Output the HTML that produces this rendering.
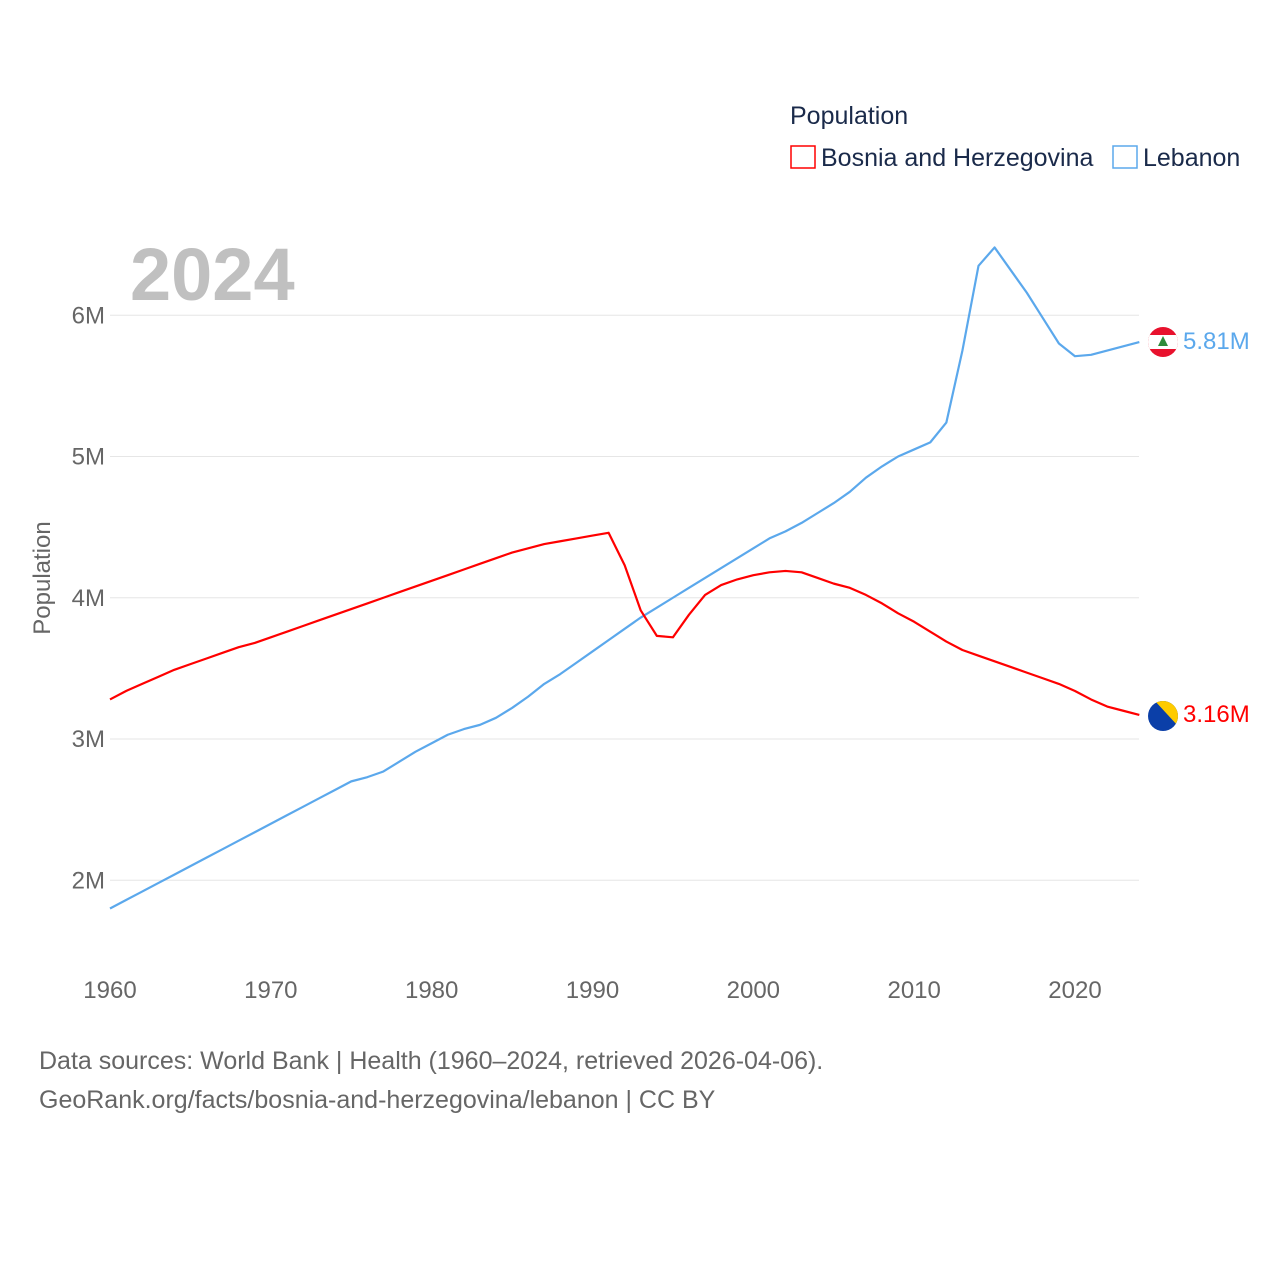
<!DOCTYPE html>
<html><head><meta charset="utf-8"><style>
body{margin:0;background:#fff;}
svg text{font-family:"Liberation Sans",sans-serif;}
</style></head><body>
<svg id="chart" width="1280" height="1280" viewBox="0 0 1280 1280" xmlns="http://www.w3.org/2000/svg">
<text x="790" y="124" font-size="25" fill="#1a2a4a">Population</text>
<rect x="791" y="146" width="24" height="22" fill="none" stroke="#ff0000" stroke-width="1.5"/>
<text x="821" y="166" font-size="25" fill="#1a2a4a">Bosnia and Herzegovina</text>
<rect x="1113" y="146" width="24" height="22" fill="none" stroke="#5ba8ec" stroke-width="1.5"/>
<text x="1143" y="166" font-size="25" fill="#1a2a4a">Lebanon</text>
<text x="130" y="300" font-size="74" font-weight="bold" fill="#c0c0c0">2024</text>
<text transform="translate(50,578) rotate(-90)" text-anchor="middle" font-size="24" fill="#666">Population</text>
<g id="grid"></g><g id="series"></g>
<text x="39" y="1069" font-size="25" fill="#666">Data sources: World Bank | Health (1960–2024, retrieved 2026-04-06).</text>
<text x="39" y="1108" font-size="25" fill="#666">GeoRank.org/facts/bosnia-and-herzegovina/lebanon | CC BY</text>
<g transform="translate(1163,342)">
<clipPath id="cl"><circle r="15"/></clipPath>
<g clip-path="url(#cl)"><rect x="-15" y="-15" width="30" height="30" fill="#e8112d"/><rect x="-15" y="-7" width="30" height="14" fill="#fff"/><polygon points="0,-6 5,4 -5,4" fill="#2e8b3a"/></g></g>
<g transform="translate(1163,716)">
<clipPath id="cb"><circle r="15"/></clipPath>
<g clip-path="url(#cb)"><rect x="-15" y="-15" width="30" height="30" fill="#0b3fa8"/><polygon points="-8,-15 15,-15 15,10" fill="#fecb00"/></g></g>
<text x="1183" y="349" font-size="24" fill="#5ba8ec">5.81M</text>
<text x="1183" y="722" font-size="24" fill="#ff0000">3.16M</text>
</svg>
<script>
const years=[];for(let y=1960;y<=2024;y++)years.push(y);
const yTicks=[2,3,4,5,6];
const xTicks=[1960,1970,1980,1990,2000,2010,2020];
const bosnia=[3.28,3.34,3.39,3.44,3.49,3.53,3.57,3.61,3.65,3.68,3.72,3.76,3.80,3.84,3.88,3.92,3.96,4.00,4.04,4.08,4.12,4.16,4.20,4.24,4.28,4.32,4.35,4.38,4.40,4.42,4.44,4.46,4.23,3.91,3.73,3.72,3.88,4.02,4.09,4.13,4.16,4.18,4.19,4.18,4.14,4.10,4.07,4.02,3.96,3.89,3.83,3.76,3.69,3.63,3.59,3.55,3.51,3.47,3.43,3.39,3.34,3.28,3.23,3.20,3.17];
const lebanon=[1.80,1.86,1.92,1.98,2.04,2.10,2.16,2.22,2.28,2.34,2.40,2.46,2.52,2.58,2.64,2.70,2.73,2.77,2.84,2.91,2.97,3.03,3.07,3.10,3.15,3.22,3.30,3.39,3.46,3.54,3.62,3.70,3.78,3.86,3.93,4.00,4.07,4.14,4.21,4.28,4.35,4.42,4.47,4.53,4.60,4.67,4.75,4.85,4.93,5.00,5.05,5.10,5.24,5.75,6.35,6.48,6.32,6.16,5.98,5.80,5.71,5.72,5.75,5.78,5.81];
const X=y=>110+(y-1960)*(965/60);
const Y=v=>739-(v-3)*141.25;
const NS="http://www.w3.org/2000/svg";
const grid=document.getElementById('grid'),ser=document.getElementById('series');
yTicks.forEach(t=>{
 const l=document.createElementNS(NS,'line');
 
 
 l.setAttribute('x1',110);l.setAttribute('x2',1139);l.setAttribute('y1',Y(t));l.setAttribute('y2',Y(t));
 l.setAttribute('stroke','#e6e6e6');l.setAttribute('stroke-width','1');grid.appendChild(l);
 const tx=document.createElementNS(NS,'text');
 
 
 tx.setAttribute('x',105);tx.setAttribute('y',Y(t)+8);tx.setAttribute('text-anchor','end');
 tx.setAttribute('font-size','24');tx.setAttribute('fill','#666');tx.textContent=t+'M';grid.appendChild(tx);
});
xTicks.forEach(t=>{
 const tx=document.createElementNS(NS,'text');
 
 
 tx.setAttribute('x',X(t));tx.setAttribute('y',998);tx.setAttribute('text-anchor','middle');
 tx.setAttribute('font-size','24');tx.setAttribute('fill','#666');tx.textContent=t;grid.appendChild(tx);
});
function line(data,color,name){
 const p=document.createElementNS(NS,'polyline');
 
 
 p.setAttribute('points',data.map((v,i)=>X(years[i])+','+Y(v)).join(' '));
 p.setAttribute('fill','none');p.setAttribute('stroke',color);p.setAttribute('stroke-width','2.2');
 p.setAttribute('stroke-linejoin','round');
 ser.appendChild(p);
}
line(lebanon,'#5ba8ec','lebanon-line');
line(bosnia,'#ff0000','bosnia-line');
</script>
</body></html>
